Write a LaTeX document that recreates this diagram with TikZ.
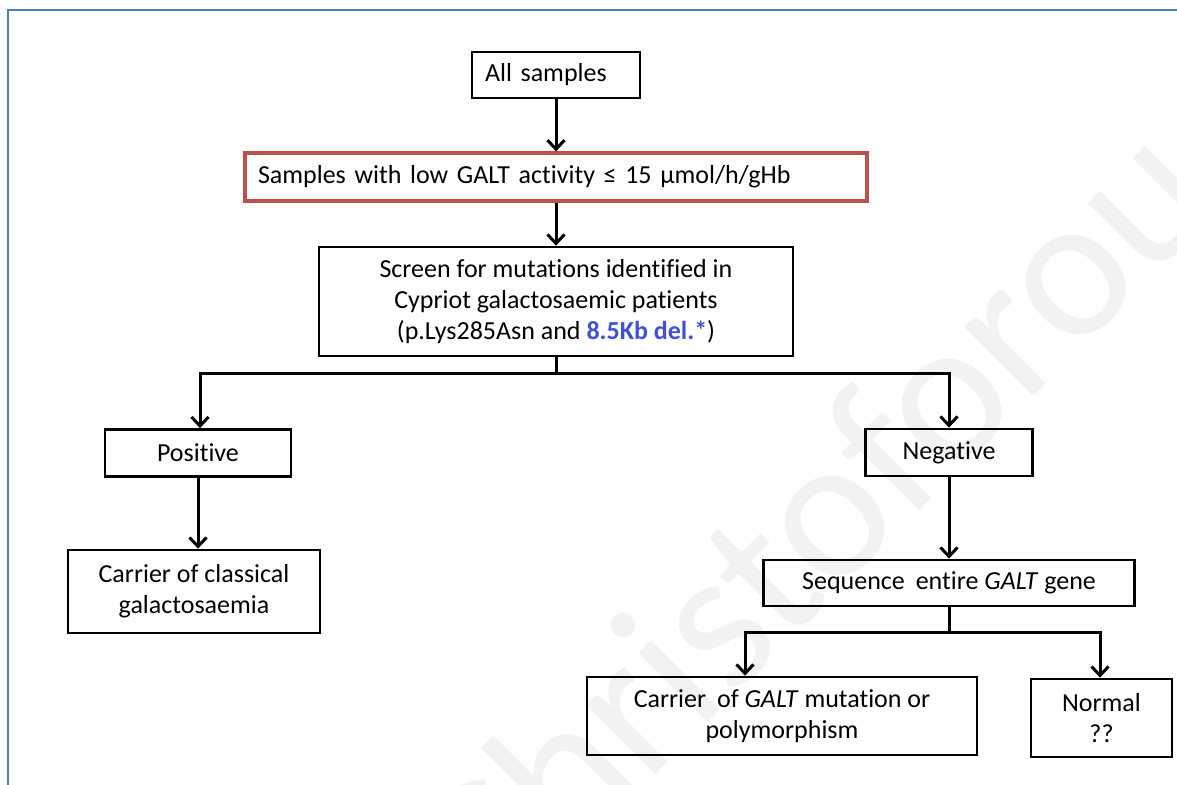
\documentclass[tikz,border=0pt]{standalone}
\usepackage{fontspec}
\setmainfont{Carlito}[RawFeature={-liga}]
\usetikzlibrary{arrows.meta}
\definecolor{frameblue}{HTML}{4F81BD}
\definecolor{boxred}{HTML}{C0504D}
\definecolor{delblue}{HTML}{3F51D9}
\definecolor{wmark}{HTML}{F2F2F2}

\begin{document}
\begin{tikzpicture}[x=1pt,y=-1pt,
  txt/.style={font=\fontsize{26}{31}\selectfont},
  box/.style={txt, draw=black, line width=2.7pt, inner sep=0pt, align=center},
  lbox/.style={txt, draw=black, line width=2.7pt, inner xsep=13pt, inner ysep=0pt, align=left},
  arr/.style={line width=3pt, -{Straight Barb[length=9pt,width=17pt]}}]
\useasboundingbox (0,0) rectangle (1177,784);
\clip (0,0) rectangle (1177,784);

% faint diagonal watermark behind the chart
\node[rotate=45, anchor=base west, inner sep=0pt, text=wmark,
      font=\fontsize{204}{204}\selectfont] (wm) at (494,936) {Christoforou};

% outer frame
\draw[frameblue, line width=2pt] (8,10) rectangle (1200,810);

% boxes
\node[lbox, text width=142pt, minimum height=46pt] (all) at (556,75) {All samples};
\node[lbox, draw=boxred, line width=3.3pt, text width=596pt, minimum height=48pt] (red) at (556,177)
  {Samples with low GALT activity ≤ 15 μmol/h/gHb};
\node[box, minimum width=474pt, minimum height=109pt] (screen) at (556,301.5)
  {Screen for mutations identified in\\Cypriot galactosaemic patients\\(p.Lys285Asn and {\bfseries\color{delblue}8.5Kb del.*})};
\node[box, minimum width=186pt, minimum height=47pt] (pos) at (198,453) {Positive};
\node[box, minimum width=167pt, minimum height=47pt] (neg) at (949,452.5) {Negative};
\node[box, minimum width=252pt, minimum height=83pt] (cls) at (194,591.5)
  {Carrier of classical\\galactosaemia};
\node[box, minimum width=371pt, minimum height=46pt] (seq) at (949,583)
  {Sequence\hspace{5pt} entire \textit{GALT} gene};
\node[box, minimum width=390pt, minimum height=78pt] (cgalt) at (782,716)
  {Carrier\hspace{5pt} of \textit{GALT} mutation or\\polymorphism};
\node[box, minimum width=141pt, minimum height=78pt] (normal) at (1101.5,718)
  {Normal\\??};

% branch points
\coordinate (c1l) at (200,373);
\coordinate (c1r) at (949,373);
\coordinate (c2l) at (745,632);
\coordinate (c2r) at (1100,632);

% connectors
\draw[arr] (all) -- (red);
\draw[arr] (red) -- (screen);
\draw[arr] (screen.south) |- (c1l) -- (c1l |- pos.north);
\draw[arr] (screen.south |- c1r) -- (c1r) -- (c1r |- neg.north);
\draw[arr] (pos.south) -- (pos.south |- cls.north);
\draw[arr] (neg.south) -- (seq.north);
\draw[arr] (seq.south) |- (c2l) -- (c2l |- cgalt.north);
\draw[arr] (seq.south |- c2r) -- (c2r) -- (c2r |- normal.north);
\end{tikzpicture}
\end{document}
